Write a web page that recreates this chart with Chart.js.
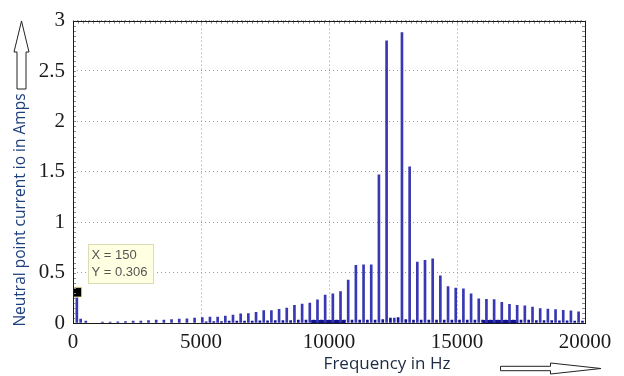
<!DOCTYPE html>
<html>
<head>
<meta charset="utf-8">
<title>Neutral point current spectrum</title>
<script src="https://cdn.jsdelivr.net/npm/chart.js@4/dist/chart.umd.min.js"></script>
<style>
  html, body { margin: 0; padding: 0; background: #fff; }
  #spectrum { display: block; }
</style>
</head>
<body>
<canvas id="spectrum" width="624" height="376"></canvas>
<script>
// harmonic lines of the neutral point current (Hz / A)
const freqHz = [150, 300, 500,
  1150, 1450, 1750, 2050, 2350, 2650, 2950, 3250, 3550, 3850, 4150, 4450, 4750,
  5050, 5350, 5650, 5950, 6250, 6550, 6850, 7150, 7450, 7750,
  8050, 8350, 8650, 8950, 9250, 9550, 9850, 10150, 10450, 10750,
  11050, 11350, 11650, 11950, 12250, 12550, 12850, 13150, 13450, 13750,
  14050, 14350, 14650, 14950, 15250, 15550, 15850, 16150, 16450, 16750,
  17050, 17350, 17650, 17950, 18250, 18550, 18850, 19150, 19450, 19750];
const currentA = [0.306, 0.04, 0.02,
  0.008, 0.01, 0.012, 0.015, 0.018, 0.02, 0.025, 0.028, 0.03, 0.034, 0.038, 0.042, 0.048,
  0.054, 0.058, 0.058, 0.068, 0.078, 0.09, 0.093, 0.107, 0.122, 0.122,
  0.136, 0.149, 0.175, 0.187, 0.197, 0.231, 0.277, 0.29, 0.312, 0.425,
  0.573, 0.576, 0.576, 1.47, 2.80, 0.05, 2.88, 1.55, 0.605, 0.621,
  0.636, 0.467, 0.361, 0.347, 0.34, 0.289, 0.239, 0.235, 0.233, 0.204,
  0.184, 0.175, 0.171, 0.158, 0.142, 0.139, 0.132, 0.126, 0.12, 0.11];

// small components sitting between the main lines
const minorHz = [5200, 5500, 5800, 6100, 6400, 6700, 7000, 7300, 7600, 7900,
  8200, 8500, 8800, 9100, 9400, 9700, 10000, 10300, 10600, 10900,
  11200, 11500, 11800, 12100, 12400, 12700, 13000, 13300, 13600, 13900,
  14200, 14500, 14800, 15100, 15400, 15700, 16000, 16300, 16600, 16900,
  17200, 17500, 17800, 18100, 18400, 18700, 19000, 19300, 19600, 19900];
const minorA = [0.012, 0.015, 0.015, 0.018, 0.018, 0.02, 0.02, 0.022, 0.022, 0.025,
  0.025, 0.025, 0.028, 0.028, 0.03, 0.03, 0.03, 0.03, 0.03, 0.03,
  0.03, 0.03, 0.03, 0.035, 0.05, 0.055, 0.035, 0.03, 0.03, 0.03,
  0.03, 0.03, 0.03, 0.03, 0.03, 0.03, 0.03, 0.03, 0.03, 0.03,
  0.03, 0.028, 0.028, 0.025, 0.025, 0.025, 0.022, 0.022, 0.02, 0.02];

// dense low-level content near the base
const bandLowHz = [9300, 10650];
const bandHighHz = [16000, 17400];
const bandA = 0.03;

// data cursor
const cursorHz = 150;
const cursorA = 0.306;

const xTickLabels = ['0', '5000', '10000', '15000', '20000'];
const yTickLabels = ['0', '0.5', '1', '1.5', '2', '2.5', '3'];

const xTitle = 'Frequency in Hz';
const yTitle = 'Neutral point current io in Amps';

const barBlue = '#3838b2';
const baseNavy = '#141490';

Chart.defaults.font.family = '"Liberation Serif", "Times New Roman", serif';
Chart.defaults.font.size = 21;

function drawUpArrow(ctx, cx, tipY, headY, baseY) {
  ctx.beginPath();
  ctx.moveTo(cx - 4.5, baseY);
  ctx.lineTo(cx - 4.5, headY);
  ctx.lineTo(cx - 7.5, headY);
  ctx.lineTo(cx, tipY);
  ctx.lineTo(cx + 7.5, headY);
  ctx.lineTo(cx + 4.5, headY);
  ctx.lineTo(cx + 4.5, baseY);
  ctx.closePath();
  ctx.fill();
  ctx.stroke();
}

function drawRightArrow(ctx, cy, startX, headX, tipX) {
  ctx.beginPath();
  ctx.moveTo(startX, cy - 2.2);
  ctx.lineTo(headX, cy - 2.2);
  ctx.lineTo(headX, cy - 5.5);
  ctx.lineTo(tipX, cy);
  ctx.lineTo(headX, cy + 5.5);
  ctx.lineTo(headX, cy + 2.2);
  ctx.lineTo(startX, cy + 2.2);
  ctx.closePath();
  ctx.fill();
  ctx.stroke();
}

const decorations = {
  id: 'decorations',
  afterDatasetsDraw(chart) {
    const { ctx, chartArea: a, scales: { x, y } } = chart;
    ctx.save();

    // minor ticks pointing inwards
    ctx.strokeStyle = '#8a8a8a';
    ctx.lineWidth = 1;
    ctx.beginPath();
    for (let k = 0; k <= 60; k++) {
      const py = Math.round(y.getPixelForValue(k * 0.05)) + 0.5;
      ctx.moveTo(a.left, py); ctx.lineTo(a.left + 3, py);
      ctx.moveTo(a.right, py); ctx.lineTo(a.right - 3, py);
    }
    for (let k = 0; k <= 100; k++) {
      const px = Math.round(x.getPixelForValue(k * 200)) + 0.5;
      ctx.moveTo(px, a.top); ctx.lineTo(px, a.top + 3);
    }
    ctx.stroke();

    // axes box
    ctx.strokeStyle = '#1a1a1a';
    ctx.strokeRect(Math.round(a.left) + 0.5, Math.round(a.top) + 0.5,
      Math.round(a.right - a.left), Math.round(a.bottom - a.top));

    // data tip next to the cursor marker
    const mx = x.getPixelForValue(cursorHz);
    const my = y.getPixelForValue(cursorA);
    const bx = Math.round(mx + 11) + 0.5, by = Math.round(my - 48) + 0.5;
    ctx.fillStyle = '#ffffe1';
    ctx.strokeStyle = '#dcdcb4';
    ctx.fillRect(bx, by, 65, 39);
    ctx.strokeRect(bx, by, 65, 39);
    ctx.fillStyle = '#555';
    ctx.font = '13px "Liberation Sans"';
    ctx.textBaseline = 'middle';
    ctx.textAlign = 'left';
    ctx.fillText('X = ' + cursorHz, bx + 3, by + 11);
    ctx.fillText('Y = ' + cursorA.toFixed(3), bx + 3, by + 28);

    // axis titles
    ctx.fillStyle = '#1c2a44';
    ctx.font = '17px "Open Sans"';
    ctx.textAlign = 'center';
    ctx.fillText(xTitle, 387, 364);

    ctx.save();
    ctx.translate(21, 210);
    ctx.rotate(-Math.PI / 2);
    ctx.fillStyle = '#1d3f7c';
    ctx.font = '15.5px "Open Sans"';
    ctx.fillText(yTitle, 0, 0);
    ctx.restore();

    // direction arrows
    ctx.fillStyle = '#fff';
    ctx.strokeStyle = '#222';
    ctx.lineWidth = 1;
    drawUpArrow(ctx, 21.5, 21, 52, 89);
    drawRightArrow(ctx, 368.5, 500.5, 550.5, 601);

    ctx.restore();
  }
};

new Chart(document.getElementById('spectrum'), {
  type: 'bar',
  data: {
    datasets: [
      {
        type: 'scatter',
        data: [{ x: cursorHz, y: cursorA }],
        pointStyle: 'rect',
        pointRadius: 7,
        backgroundColor: '#000',
        borderColor: '#f4efb0',
        borderWidth: 1,
        order: 0
      },
      {
        data: freqHz.map((f, i) => ({ x: f, y: currentA[i] })),
        backgroundColor: barBlue,
        barThickness: 2,
        grouped: false,
        order: 1
      },
      {
        data: minorHz.map((f, i) => ({ x: f, y: minorA[i] })),
        backgroundColor: baseNavy,
        barThickness: 2,
        grouped: false,
        order: 2
      },
      {
        type: 'line',
        data: bandLowHz.map(f => ({ x: f, y: bandA })),
        backgroundColor: baseNavy,
        borderWidth: 0,
        pointRadius: 0,
        fill: 'origin',
        order: 3
      },
      {
        type: 'line',
        data: bandHighHz.map(f => ({ x: f, y: bandA })),
        backgroundColor: baseNavy,
        borderWidth: 0,
        pointRadius: 0,
        fill: 'origin',
        order: 3
      }
    ]
  },
  options: {
    responsive: false,
    animation: false,
    layout: { padding: { top: 14, right: 39, left: 0, bottom: 0 } },
    plugins: {
      legend: { display: false },
      tooltip: { enabled: false }
    },
    scales: {
      x: {
        type: 'linear',
        min: 0,
        max: 20000,
        offset: false,
        afterFit: s => { s.height = 53; },
        ticks: {
          stepSize: 5000,
          padding: 7,
          maxRotation: 0,
          autoSkip: false,
          color: '#1a1a1a',
          callback: (v, i) => xTickLabels[i]
        },
        grid: { color: '#9a9a9a', drawTicks: false, offset: false },
        border: { display: false, dash: [1, 3] }
      },
      y: {
        min: 0,
        max: 3,
        afterFit: s => { s.width = 73; },
        ticks: {
          stepSize: 0.5,
          padding: 8,
          color: '#1a1a1a',
          callback: (v, i) => yTickLabels[i]
        },
        grid: { color: '#9a9a9a', drawTicks: false },
        border: { display: false, dash: [1, 3] }
      }
    }
  },
  plugins: [decorations]
});
</script>
</body>
</html>
